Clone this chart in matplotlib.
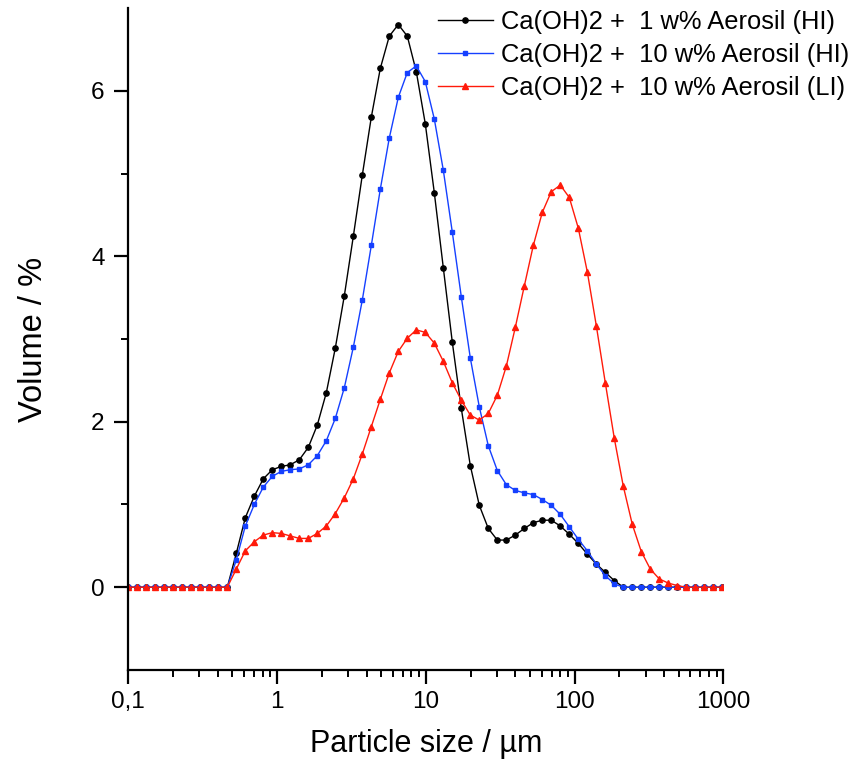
"""Particle size distribution of Ca(OH)2 with Aerosil additions (volume %)."""
import matplotlib
matplotlib.use("Agg")
import matplotlib.pyplot as plt
from matplotlib.ticker import FixedLocator, NullFormatter, LogLocator

plt.rcParams["font.family"] = ["Liberation Sans", "DejaVu Sans"]

# measurement channels, um
size_um = [
    0.1, 0.1149, 0.1321, 0.1519, 0.1746, 0.2007, 0.2307, 0.2652, 0.3048, 0.3504,
    0.4027, 0.4629, 0.5321, 0.6117, 0.7031, 0.8082, 0.9290, 1.068, 1.227, 1.411,
    1.622, 1.864, 2.143, 2.463, 2.831, 3.255, 3.741, 4.300, 4.943, 5.682,
    6.531, 7.508, 8.630, 9.920, 11.40, 13.11, 15.07, 17.32, 19.91, 22.88,
    26.30, 30.24, 34.75, 39.95, 45.92, 52.78, 60.67, 69.74, 80.17, 92.15,
    105.9, 121.8, 140.0, 160.9, 184.9, 212.6, 244.3, 280.9, 322.8, 371.1,
    426.6, 490.4, 563.6, 647.9, 744.7, 856.1, 984.0,
]

vol_1_hi = [
    0, 0, 0, 0, 0, 0, 0, 0, 0, 0,
    0, 0, 0.41, 0.84, 1.10, 1.31, 1.42, 1.46, 1.48, 1.54,
    1.69, 1.96, 2.35, 2.89, 3.52, 4.24, 4.98, 5.68, 6.27, 6.66,
    6.80, 6.66, 6.23, 5.60, 4.77, 3.86, 2.96, 2.16, 1.47, 0.99,
    0.71, 0.57, 0.57, 0.63, 0.71, 0.78, 0.81, 0.81, 0.74, 0.64,
    0.53, 0.40, 0.28, 0.18, 0.08, 0, 0, 0, 0, 0,
    0, 0, 0, 0, 0, 0, 0,
]

vol_10_hi = [
    0, 0, 0, 0, 0, 0, 0, 0, 0, 0,
    0, 0, 0.33, 0.74, 1.00, 1.21, 1.34, 1.40, 1.42, 1.43,
    1.48, 1.59, 1.77, 2.04, 2.41, 2.90, 3.47, 4.13, 4.81, 5.43,
    5.92, 6.22, 6.30, 6.11, 5.66, 5.04, 4.29, 3.51, 2.77, 2.18,
    1.71, 1.41, 1.24, 1.17, 1.14, 1.12, 1.06, 0.99, 0.88, 0.73,
    0.58, 0.44, 0.28, 0.14, 0.04, 0, 0, 0, 0, 0,
    0, 0, 0, 0, 0, 0, 0,
]

vol_10_li = [
    0, 0, 0, 0, 0, 0, 0, 0, 0, 0,
    0, 0, 0.22, 0.44, 0.55, 0.63, 0.66, 0.65, 0.62, 0.59,
    0.59, 0.65, 0.74, 0.89, 1.08, 1.31, 1.61, 1.94, 2.27, 2.59,
    2.85, 3.01, 3.11, 3.08, 2.95, 2.73, 2.47, 2.26, 2.08, 2.02,
    2.10, 2.32, 2.67, 3.14, 3.64, 4.13, 4.53, 4.78, 4.86, 4.71,
    4.34, 3.81, 3.16, 2.47, 1.80, 1.22, 0.76, 0.43, 0.22, 0.10,
    0.05, 0.02, 0, 0, 0, 0, 0,
]

series_labels = [
    "Ca(OH)2 +  1 w% Aerosil (HI)",
    "Ca(OH)2 +  10 w% Aerosil (HI)",
    "Ca(OH)2 +  10 w% Aerosil (LI)",
]

x_ticks = [0.1, 1, 10, 100, 1000]
x_tick_labels = ["0,1", "1", "10", "100", "1000"]
y_ticks = [0, 2, 4, 6]


def make_fig(out_path):
    fig = plt.figure(figsize=(8.64, 7.70), dpi=100)
    ax = fig.add_axes([0.1485, 0.1299, 0.6887, 0.8597])

    ax.plot(size_um, vol_1_hi, "-o", color="black", lw=1.0, ms=3.8,
            label=series_labels[0])
    ax.plot(size_um, vol_10_hi, "-s", color="#1540ff", lw=1.0, ms=3.4,
            label=series_labels[1])
    ax.plot(size_um, vol_10_li, "-^", color="#ff1a0a", lw=1.0, ms=5.0,
            label=series_labels[2])

    ax.set_xscale("log")
    ax.set_xlim(0.1, 1000)
    ax.set_ylim(-1, 7)

    ax.xaxis.set_major_locator(FixedLocator(x_ticks))
    ax.set_xticklabels(x_tick_labels)
    ax.xaxis.set_minor_locator(LogLocator(base=10, subs=range(2, 10)))
    ax.xaxis.set_minor_formatter(NullFormatter())
    ax.set_yticks(y_ticks)
    ax.yaxis.set_minor_locator(FixedLocator([1, 3, 5]))

    for side in ("top", "right"):
        ax.spines[side].set_visible(False)
    for side in ("left", "bottom"):
        ax.spines[side].set_linewidth(1.6)

    ax.tick_params(which="major", direction="out", length=10, width=1.6,
                   labelsize=17.5)
    ax.tick_params(which="minor", direction="out", length=5, width=1.4)
    ax.tick_params(axis="x", which="major", pad=5)
    ax.tick_params(axis="y", which="major", pad=7)

    ax.set_xlabel("Particle size / µm", fontsize=22, labelpad=12)
    ax.set_ylabel("Volume / %", fontsize=23.5)
    ax.yaxis.set_label_coords(-0.133, 0.5)

    fig.legend(loc="upper left", bbox_to_anchor=(438 / 864, 1 - 10 / 770),
               bbox_transform=fig.transFigure, frameon=False, fontsize=18.4,
               handlelength=2.15, handletextpad=0.32, labelspacing=0.36,
               borderpad=0, borderaxespad=0)

    fig.savefig(out_path, dpi=100)


if __name__ == "__main__":
    make_fig("out.png")
